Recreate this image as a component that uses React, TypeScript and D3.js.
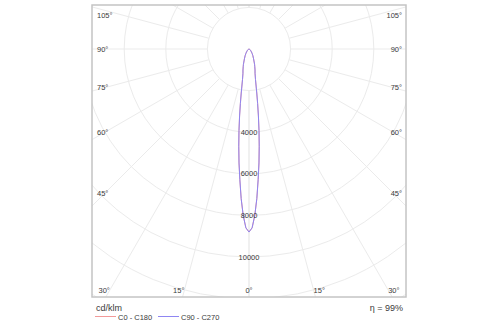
import React, { useEffect, useRef } from 'react';
import * as d3 from 'd3';

// Gamma angles (deg from nadir) and luminous intensity in cd/klm
const gammaAngles = [0, 1, 2, 3, 4, 5, 6, 7, 8, 9, 10, 12, 14, 16, 18, 20, 25, 30, 35, 40, 50, 60, 70, 80, 90];
const c0c180 = [8800, 8600, 8000, 7200, 6300, 5500, 4700, 3950, 3250, 2650, 2150, 1500, 1200, 1050, 900, 780, 520, 370, 260, 180, 90, 40, 15, 5, 0];
const c90c270 = [8800, 8600, 8000, 7200, 6300, 5500, 4700, 3950, 3250, 2650, 2150, 1500, 1200, 1050, 900, 780, 520, 370, 260, 180, 90, 40, 15, 5, 0];

const ringValues = [2000, 4000, 6000, 8000, 10000, 12000, 14000, 16000];
const ringLabels = [4000, 6000, 8000, 10000];
const radialAngles = [0, 15, 30, 45, 60, 75, 90, 105, 120, 135, 150, 165, 180];
const sideLabels = [105, 90, 75, 60, 45];
const bottomLabels = [30, 15, 0];

const unitLabel = 'cd/klm';
const efficiencyLabel = 'η = 99%';
const seriesNames = ['C0 - C180', 'C90 - C270'];
const seriesColors = ['#f29a9a', '#8f86f2'];

const App = () => {
  const svgRef = useRef<SVGSVGElement>(null);

  useEffect(() => {
    if (!svgRef.current) return;
    const width = 500;
    const height = 325;
    const frame = { left: 92, right: 406, top: 5, bottom: 297 };
    const cx = (frame.left + frame.right) / 2;
    const cy = 49;
    const font = '"Liberation Sans", Arial, sans-serif';
    const textColor = '#3a3a3a';

    const svg = d3.select(svgRef.current);
    svg.selectAll('*').remove();
    svg.attr('width', width).attr('height', height);

    const r = d3.scaleLinear().domain([0, 10000]).range([0, 208]);

    svg.append('defs').append('clipPath').attr('id', 'frameClip')
      .append('rect')
      .attr('x', frame.left).attr('y', frame.top)
      .attr('width', frame.right - frame.left).attr('height', frame.bottom - frame.top);

    const grid = svg.append('g').attr('clip-path', 'url(#frameClip)');

    // radial lines, both sides
    radialAngles.forEach(a => {
      [-1, 1].forEach(side => {
        const t = (a * Math.PI) / 180;
        const r0 = r(2000);
        const r1 = r(16000);
        grid.append('line')
          .attr('x1', cx + side * Math.sin(t) * r0)
          .attr('y1', cy + Math.cos(t) * r0)
          .attr('x2', cx + side * Math.sin(t) * r1)
          .attr('y2', cy + Math.cos(t) * r1)
          .attr('stroke', '#ebebeb')
          .attr('stroke-width', 1);
      });
    });

    grid.selectAll('.ring')
      .data(ringValues)
      .enter()
      .append('circle')
      .attr('cx', cx)
      .attr('cy', cy)
      .attr('r', d => r(d))
      .attr('fill', (d, i) => (i === 0 ? '#fff' : 'none'))
      .attr('stroke', '#ebebeb')
      .attr('stroke-width', 1);

    // intensity curves
    const toPoints = (vals: number[]) => {
      const pts: [number, number][] = [];
      for (let i = gammaAngles.length - 1; i >= 0; i--) pts.push([-gammaAngles[i], vals[i]]);
      for (let i = 1; i < gammaAngles.length; i++) pts.push([gammaAngles[i], vals[i]]);
      return pts;
    };

    const line = d3.lineRadial<[number, number]>()
      .angle(d => Math.PI - (d[0] * Math.PI) / 180)
      .radius(d => r(d[1]));

    [c0c180, c90c270].forEach((vals, i) => {
      svg.append('path')
        .attr('transform', `translate(${cx},${cy})`)
        .attr('d', line(toPoints(vals)))
        .attr('fill', 'none')
        .attr('stroke', seriesColors[i])
        .attr('stroke-width', 1);
    });

    // ring labels
    svg.selectAll('.ringLabel')
      .data(ringLabels)
      .enter()
      .append('text')
      .attr('x', cx)
      .attr('y', d => cy + r(d))
      .attr('dy', '0.35em')
      .attr('text-anchor', 'middle')
      .attr('font-family', font)
      .attr('font-size', 7.5)
      .attr('fill', textColor)
      .text(d => d);

    // side angle labels
    const labelDx = cx - 105;
    sideLabels.forEach(a => {
      const t = (a * Math.PI) / 180;
      const y = Math.max(frame.top + 10, cy + (labelDx * Math.cos(t)) / Math.sin(t));
      [
        { x: frame.left + 5, anchor: 'start' },
        { x: frame.right - 4, anchor: 'end' },
      ].forEach(p => {
        svg.append('text')
          .attr('x', p.x)
          .attr('y', y)
          .attr('dy', '0.35em')
          .attr('text-anchor', p.anchor)
          .attr('font-family', font)
          .attr('font-size', 7.5)
          .attr('fill', textColor)
          .text(`${a}°`);
      });
    });

    // bottom angle labels
    const by = 290;
    bottomLabels.forEach(a => {
      const t = (a * Math.PI) / 180;
      const dx = (by - cy) * Math.tan(t);
      const sides = a === 0 ? [0] : [-1, 1];
      sides.forEach(s => {
        svg.append('text')
          .attr('x', cx + s * dx)
          .attr('y', by)
          .attr('dy', '0.35em')
          .attr('text-anchor', s === 0 ? 'middle' : s < 0 ? 'end' : 'start')
          .attr('font-family', font)
          .attr('font-size', 7.5)
          .attr('fill', textColor)
          .text(`${a}°`);
      });
    });

    // frame
    svg.append('rect')
      .attr('x', frame.left).attr('y', frame.top)
      .attr('width', frame.right - frame.left).attr('height', frame.bottom - frame.top)
      .attr('fill', 'none')
      .attr('stroke', '#c4c4c4')
      .attr('stroke-width', 1.5);

    // legend
    svg.append('text')
      .attr('x', frame.left + 4).attr('y', 311)
      .attr('font-family', font).attr('font-size', 9).attr('fill', textColor)
      .text(unitLabel);
    svg.append('text')
      .attr('x', frame.right - 3).attr('y', 311)
      .attr('text-anchor', 'end')
      .attr('font-family', font).attr('font-size', 9).attr('fill', textColor)
      .text(efficiencyLabel);

    const legendX = [95, 158];
    seriesNames.forEach((name, i) => {
      svg.append('line')
        .attr('x1', legendX[i]).attr('x2', legendX[i] + 21)
        .attr('y1', 316.5).attr('y2', 316.5)
        .attr('stroke', seriesColors[i]).attr('stroke-width', 1);
      svg.append('text')
        .attr('x', legendX[i] + 23).attr('y', 319.5)
        .attr('font-family', font).attr('font-size', 7.5).attr('fill', textColor)
        .text(name);
    });
  }, []);

  return (
    <div style={{ position: 'absolute', left: 0, top: 0 }}>
      <svg ref={svgRef} style={{ display: 'block' }}></svg>
    </div>
  );
};

export default App;
